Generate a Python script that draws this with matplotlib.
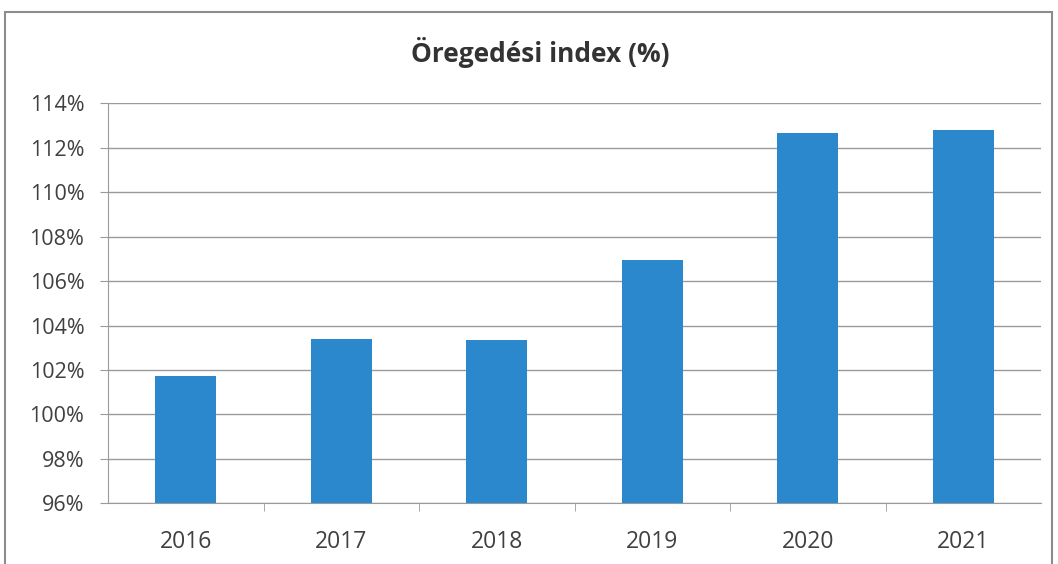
import matplotlib
matplotlib.use("Agg")
import matplotlib.pyplot as plt
from matplotlib.ticker import FixedLocator, FuncFormatter
from matplotlib.patches import Rectangle

years = ["2016", "2017", "2018", "2019", "2020", "2021"]
values = [101.75, 103.4, 103.35, 106.95, 112.65, 112.8]
yticks = [96, 98, 100, 102, 104, 106, 108, 110, 112, 114]
title = "Öregedési index (%)"

plt.rcParams['font.family'] = ['Open Sans', 'DejaVu Sans']

fig = plt.figure(figsize=(10.58, 5.64), dpi=100)
ax = fig.add_axes([108/1058, 1-503.3/564, (1041-108)/1058, (503.3-103.3)/564])

x = list(range(len(years)))
ax.bar(x, values, width=0.39, color="#2C88CC", bottom=0, zorder=3)
ax.set_xlim(-0.5, len(years) - 0.5)
ax.set_ylim(96, 114)
ax.yaxis.set_major_locator(FixedLocator(yticks))
ax.yaxis.set_major_formatter(FuncFormatter(lambda v, p: f"{v:.0f}%"))
ax.grid(axis='y', color="#9a9a9a", linewidth=1.0, zorder=0)
ax.set_axisbelow(True)

ax.set_xticks(x)
ax.set_xticklabels(years)
ax.set_xticks([i + 0.5 for i in range(len(years) - 1)], minor=True)
ax.tick_params(axis='x', which='major', length=0, pad=19, labelsize=16.5, labelcolor="#404040")
ax.tick_params(axis='x', which='minor', length=6, color="#9a9a9a", direction='out')
ax.tick_params(axis='y', length=6, color="#9a9a9a", labelsize=15.5, labelcolor="#404040", pad=11)

for s in ['top', 'right']:
    ax.spines[s].set_visible(False)
ax.spines['left'].set_color("#9a9a9a")
ax.spines['bottom'].set_color("#9a9a9a")

fig.text(540/1058, 1-52/564, title, ha='center', va='center', fontsize=19,
         fontweight='bold', color="#333333")

fig.patches.append(Rectangle((5/1058, -0.05), 1047/1058, 1.05 - 12/564, transform=fig.transFigure,
                             fill=False, edgecolor="#8c8c8c", linewidth=1.5))

fig.savefig("out.png", dpi=100)
